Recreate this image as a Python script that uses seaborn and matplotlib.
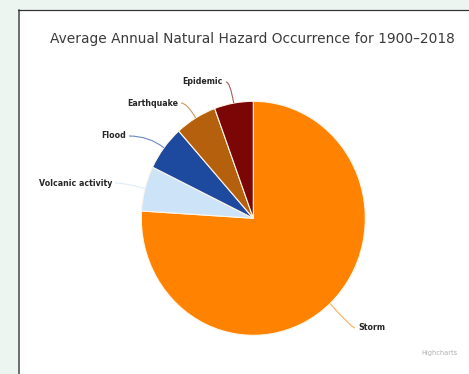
import matplotlib
matplotlib.use("Agg")
import numpy as np
import matplotlib.pyplot as plt
import seaborn as sns
from matplotlib.patches import Rectangle, PathPatch
from matplotlib.path import Path
from matplotlib.lines import Line2D

sns.set_theme(style="white")
plt.rcParams["font.family"] = ["DejaVu Sans"]

# Share of average annual occurrences (percent), clockwise from 12 o'clock
hazards = ["Storm", "Volcanic activity", "Flood", "Earthquake", "Epidemic"]
shares = [76.0, 6.2, 6.2, 6.0, 5.6]
colors = ["#ff8300", "#cde4f8", "#1d4a9f", "#b4600c", "#7a0606"]
title = "Average Annual Natural Hazard Occurrence for 1900\u20132018"

# Label anchors in pixels (x, y, alignment)
label_anchor = {
    "Storm": (358, 328, "left"),
    "Volcanic activity": (112, 183, "right"),
    "Flood": (126, 136, "right"),
    "Earthquake": (178, 103, "right"),
    "Epidemic": (223, 82, "right"),
}

W, H = 469, 374
fig = plt.figure(figsize=(W / 100, H / 100), dpi=100, facecolor="#edf5f1")

# white chart panel with its frame
fig.patches.append(Rectangle((18 / W, 0), 1, (H - 10) / H, transform=fig.transFigure,
                             facecolor="white", edgecolor="none", zorder=-5))
fig.add_artist(Line2D([18.5 / W, 18.5 / W], [0, (H - 10) / H], transform=fig.transFigure,
                      color="#6b6b6b", lw=1.4, zorder=-4))
fig.add_artist(Line2D([18 / W, 1], [(H - 10) / H, (H - 10) / H], transform=fig.transFigure,
                      color="#333333", lw=0.9, zorder=-4))

ax = fig.add_axes([0, 0, 1, 1])
ax.set_facecolor("none")
ax.set_zorder(1)

cx, cy, rx, ry = 253.3, 218.3, 112.0, 117.0


def px(x, y):
    return (x - cx) / rx, (cy - y) / ry


wedges, _ = ax.pie(shares, colors=colors, startangle=90, counterclock=False,
                   wedgeprops=dict(edgecolor="#fff6ea", linewidth=0.8))
ax.set_aspect("auto")
ax.set_xlim(-cx / rx, (W - cx) / rx)
ax.set_ylim(-(H - cy) / ry, cy / ry)
ax.axis("off")

for w, name, col in zip(wedges, hazards, colors):
    mid = np.deg2rad((w.theta1 + w.theta2) / 2)
    ex, ey = np.cos(mid), np.sin(mid)
    lx, ly, ha = label_anchor[name]
    gap = 3 if ha == "left" else -3
    sx, sy = px(lx - gap, ly)
    t = sy / ey
    kx = t * ex
    path = Path([(sx, sy), (kx, sy), (ex, ey)], [Path.MOVETO, Path.CURVE3, Path.CURVE3])
    ax.add_patch(PathPatch(path, facecolor="none", edgecolor=col, alpha=0.65, lw=0.8))
    tx, ty = px(lx, ly)
    ax.text(tx, ty, name, ha=ha, va="center", fontsize=5.7, fontweight="bold", color="#262626")

fig.text(252 / W, 1 - 39 / H, title, ha="center", va="center", fontsize=9.9, color="#3a3a3a")
fig.text(457 / W, 1 - 353 / H, "Highcharts", ha="right", va="center", fontsize=4.8, color="#b0b0b0")

fig.savefig("out.png", dpi=100, facecolor=fig.get_facecolor())
